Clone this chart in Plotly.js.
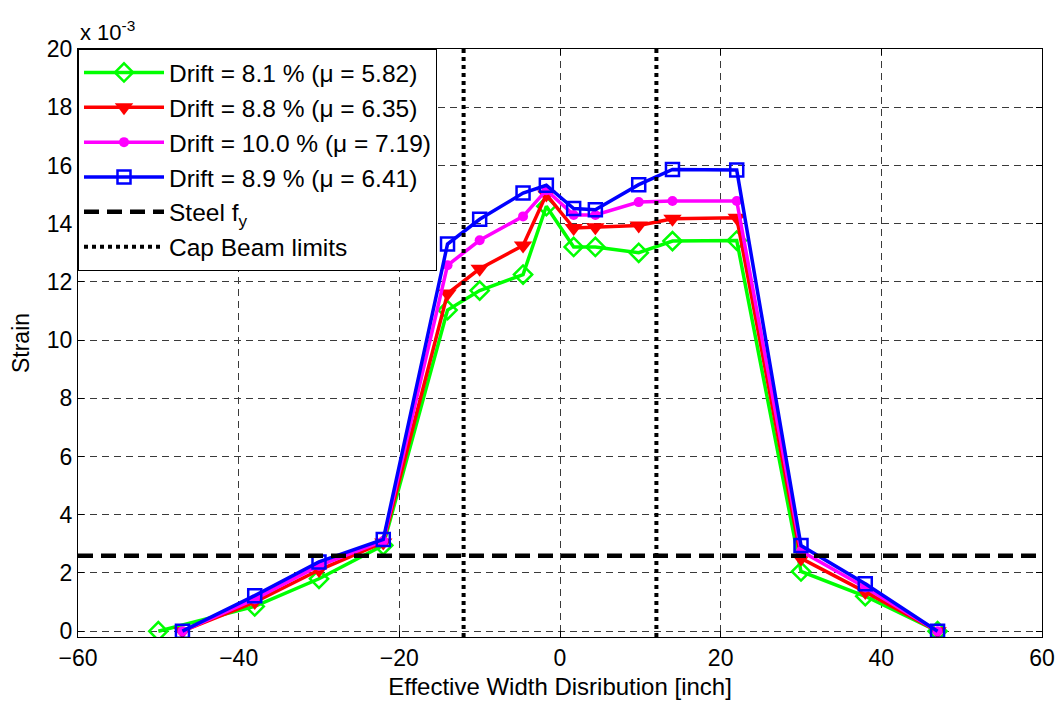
<!DOCTYPE html>
<html>
<head>
<meta charset="utf-8">
<script src="https://cdn.plot.ly/plotly-3.0.1.min.js"></script>
<style>html,body{margin:0;padding:0;background:#fff;}#chart{width:1060px;height:704px;}</style>
</head>
<body>
<div id="chart"></div>
<script>
// Strain values in units of 1e-3
const xGreen = [-50, -38, -30, -22, -14, -10, -4.6, -1.7, 1.7, 4.4, 9.8, 14, 22, 30, 38, 47];
const yGreen = [0, 0.85, 1.8, 2.95, 11.03, 11.7, 12.25, 14.6, 13.2, 13.2, 13.0, 13.4, 13.42, 2.05, 1.2, 0];

const xOthers = [-47, -38, -30, -22, -14, -10, -4.6, -1.7, 1.7, 4.4, 9.8, 14, 22, 30, 38, 47];
const yRed     = [0, 1.0, 2.1, 3.05, 11.6, 12.45, 13.25, 15.0, 13.85, 13.88, 13.94, 14.17, 14.2, 2.5, 1.35, 0];
const yMagenta = [0, 1.1, 2.25, 3.1, 12.57, 13.43, 14.25, 15.15, 14.3, 14.3, 14.74, 14.78, 14.78, 2.75, 1.5, 0];
const yBlue    = [0, 1.22, 2.38, 3.15, 13.3, 14.15, 15.05, 15.32, 14.52, 14.48, 15.34, 15.86, 15.84, 2.94, 1.63, 0];

const seriesNames = [
  'Drift = 8.1 % (\u03bc = 5.82)',
  'Drift = 8.8 % (\u03bc = 6.35)',
  'Drift = 10.0 % (\u03bc = 7.19)',
  'Drift = 8.9 % (\u03bc = 6.41)'
];
const steelFy = 2.59;
const capBeamX = [-12, 12];
const xRange = [-60, 60];
const yRange = [-0.2, 20];
const yTicks = [0, 2, 4, 6, 8, 10, 12, 14, 16, 18, 20];
const xTicks = [-60, -40, -20, 0, 20, 40, 60];

const FONT = 'Liberation Sans, Arial, sans-serif';

const traces = [
  {x: xGreen, y: yGreen, name: seriesNames[0], legendgroup: 'g1', mode: 'lines+markers',
   line: {color: '#00ff00', width: 3.5},
   marker: {symbol: 'diamond-open', size: 14, color: '#00ff00', line: {width: 2.5, color: '#00ff00'}}},
  {x: xOthers, y: yRed, name: seriesNames[1], legendgroup: 'g2', mode: 'lines+markers',
   line: {color: '#ff0000', width: 3.5},
   marker: {symbol: 'triangle-down', size: 16, color: '#ff0000'}},
  {x: xOthers, y: yMagenta, name: seriesNames[2], legendgroup: 'g3', mode: 'lines+markers',
   line: {color: '#ff00ff', width: 3.5},
   marker: {symbol: 'circle', size: 10, color: '#ff00ff'}},
  {x: xOthers, y: yBlue, name: seriesNames[3], legendgroup: 'g4', mode: 'lines+markers',
   line: {color: '#0000ff', width: 3.5},
   marker: {symbol: 'square-open', size: 13, color: '#0000ff', line: {width: 2.5, color: '#0000ff'}}},
  {x: xRange, y: [steelFy, steelFy], name: 'Steel f<sub>y</sub>', legendgroup: 'g5', mode: 'lines',
   line: {color: '#000', width: 4.5, dash: '15px,8px'}},
  {x: [capBeamX[0], capBeamX[0], null, capBeamX[1], capBeamX[1]],
   y: [yRange[0], yRange[1], null, yRange[0], yRange[1]],
   name: 'Cap Beam limits', legendgroup: 'g6', mode: 'lines',
   line: {color: '#000', width: 4, dash: 'dot'}}
];

const axisCommon = {
  showline: true, linecolor: '#000', linewidth: 1, mirror: 'allticks',
  ticks: 'inside', ticklen: 6, tickcolor: '#000', tickwidth: 1,
  showgrid: true, gridcolor: '#3a3a3a', gridwidth: 1, griddash: '7px,5px',
  zeroline: false,
  tickfont: {family: FONT, size: 23, color: '#000'}
};

const layout = {
  width: 1060, height: 704,
  paper_bgcolor: '#fff', plot_bgcolor: '#fff',
  margin: {l: 78, r: 18, t: 49, b: 67},
  font: {family: FONT, color: '#000'},
  xaxis: Object.assign({}, axisCommon, {
    range: xRange, tickmode: 'array', tickvals: xTicks,
    title: {text: 'Effective Width Disribution [inch]', font: {family: FONT, size: 24, color: '#000'}, standoff: 8}
  }),
  yaxis: Object.assign({}, axisCommon, {
    range: yRange, tickmode: 'array', tickvals: yTicks,
    title: {text: 'Strain', font: {family: FONT, size: 23, color: '#000'}, standoff: 10}
  }),
  showlegend: true,
  legend: {
    x: 0, y: 1, xanchor: 'left', yanchor: 'top',
    bgcolor: '#fff', bordercolor: '#000', borderwidth: 1,
    font: {size: 24.5, color: '#000', family: FONT},
    tracegroupgap: 0, itemwidth: 80
  },
  annotations: [{
    xref: 'paper', yref: 'paper', x: 0, y: 1, xanchor: 'left', yanchor: 'bottom',
    yshift: 2, showarrow: false,
    text: 'x 10<sup>-3</sup>', font: {family: FONT, size: 22, color: '#000'}
  }]
};

Plotly.newPlot('chart', traces, layout, {displayModeBar: false, staticPlot: true});
</script>
</body>
</html>
